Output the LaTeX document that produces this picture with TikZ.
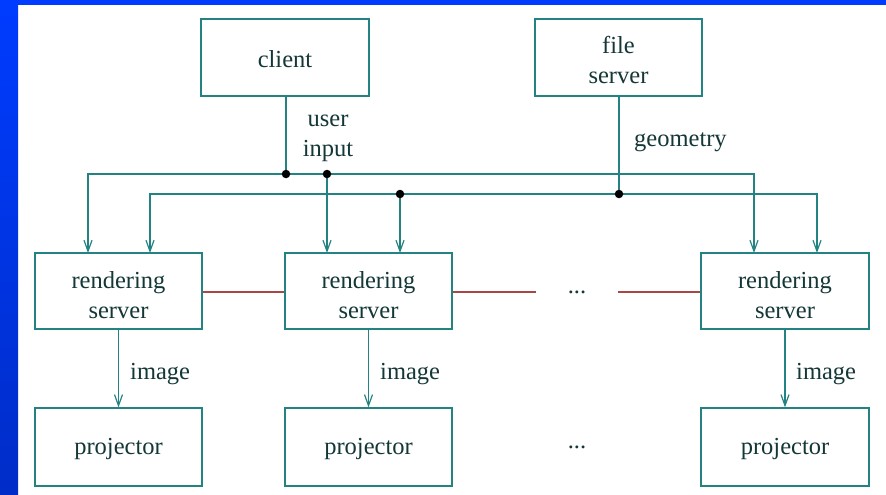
\documentclass[tikz,border=0pt]{standalone}
\usepackage{fontspec}
\setmainfont{Liberation Serif}
\newfontfamily\tnr{Liberation Serif}
\usetikzlibrary{arrows.meta}
\definecolor{boxc}{RGB}{35,130,130}
\definecolor{linkc}{RGB}{170,70,70}
\definecolor{txtc}{RGB}{20,55,55}
\definecolor{blueA}{RGB}{0,60,255}
\definecolor{blueB}{RGB}{0,45,200}
\tikzset{
  box/.style={draw=boxc, line width=1.3pt, minimum width=167pt, minimum height=76pt, inner sep=0pt},
  lbl/.style={text=txtc, font=\tnr\fontsize{24.5}{30}\selectfont, align=center, inner sep=0pt},
  conn/.style={draw=boxc, line width=1.25pt},
  arr/.style={conn, -{Straight Barb[length=11pt,width=8pt,line width=1.2pt]}},
  link/.style={draw=linkc, line width=1.4pt},
  jdot/.style={circle, fill=black, inner sep=0pt, minimum size=8.5pt}
}
\begin{document}
\begin{tikzpicture}[x=1pt,y=-1pt]
\useasboundingbox (0,0) rectangle (886,495);
\fill[white] (0,0) rectangle (886,495);
\shade[top color=blueA, bottom color=blueB] (0,0) rectangle (18,495);
\fill[blueA] (0,0) rectangle (886,5);
% top boxes
\node[box, minimum width=168pt, minimum height=77pt] (client) at (285,57.5) {};
\node[lbl] (clientt) at (285,59) {client};
\node[box, minimum height=77pt] (fs) at (618.5,57.5) {};
\node[lbl] (fst) at (618.5,60) {file\\server};
% rendering servers
\node[box] (rs1) at (118.5,291) {};
\node[box] (rs2) at (368.5,291) {};
\node[box, minimum width=168pt] (rs3) at (785,291) {};
\node[lbl] (rs1t) at (118.5,295) {rendering\\server};
\node[lbl] (rs2t) at (368.5,295) {rendering\\server};
\node[lbl] (rs3t) at (785,295) {rendering\\server};
% projectors
\node[box, minimum height=78pt] (pj1) at (118.5,447) {};
\node[box, minimum height=78pt] (pj2) at (368.5,447) {};
\node[box, minimum width=168pt, minimum height=78pt] (pj3) at (785,447) {};
\node[lbl] (pj1t) at (118.5,449) {projector};
\node[lbl] (pj2t) at (368.5,449) {projector};
\node[lbl] (pj3t) at (785,449) {projector};
% bus junctions
\coordinate (d1) at (286,174);
\coordinate (d2) at (327,174);
\coordinate (d3) at (400,194);
\coordinate (d4) at (619,194);
% arrow targets
\coordinate (a1) at (88,253);
\coordinate (a2) at (150,253);
\coordinate (a3) at (327,253);
\coordinate (a4) at (400,253);
\coordinate (a5) at (754,253);
\coordinate (a6) at (817,253);
% client bus
\draw[conn] (client.south -| d1) -- (d1);
\draw[arr] (d1) -| (a1);
\draw[arr] (d1) -| (a5);
\draw[arr] (d2) -- (a3);
% file server bus
\draw[conn] (fs.south -| d4) -- (d4);
\draw[arr] (d4) -| (a2);
\draw[arr] (d4) -| (a6);
\draw[arr] (d3) -- (a4);
\node[jdot] (j1) at (d1) {};
\node[jdot] (j2) at (d2) {};
\node[jdot] (j3) at (d3) {};
\node[jdot] (j4) at (d4) {};
% labels
\node[lbl] (ui) at (328,138) {user\\input};
\node[lbl, anchor=west] (geo) at (634,142) {geometry};
% links between rendering servers
\coordinate (l1) at (536,292);
\coordinate (l2) at (618,292);
\draw[link] (rs1.east |- l1) -- (rs2.west |- l1);
\draw[link] (rs2.east |- l1) -- (l1);
\draw[link] (l2) -- (rs3.west |- l2);
\node[lbl] (e1) at (577,292) {...};
\node[lbl] (e2) at (577,447) {...};
% image arrows
\draw[arr] (rs1.south) -- (pj1.north);
\draw[arr] (rs2.south) -- (pj2.north);
\draw[arr] (rs3.south) -- (pj3.north);
\node[lbl, anchor=west] (im1) at (130,374) {image};
\node[lbl, anchor=west] (im2) at (380,374) {image};
\node[lbl, anchor=west] (im3) at (796,374) {image};
\end{tikzpicture}
\end{document}
